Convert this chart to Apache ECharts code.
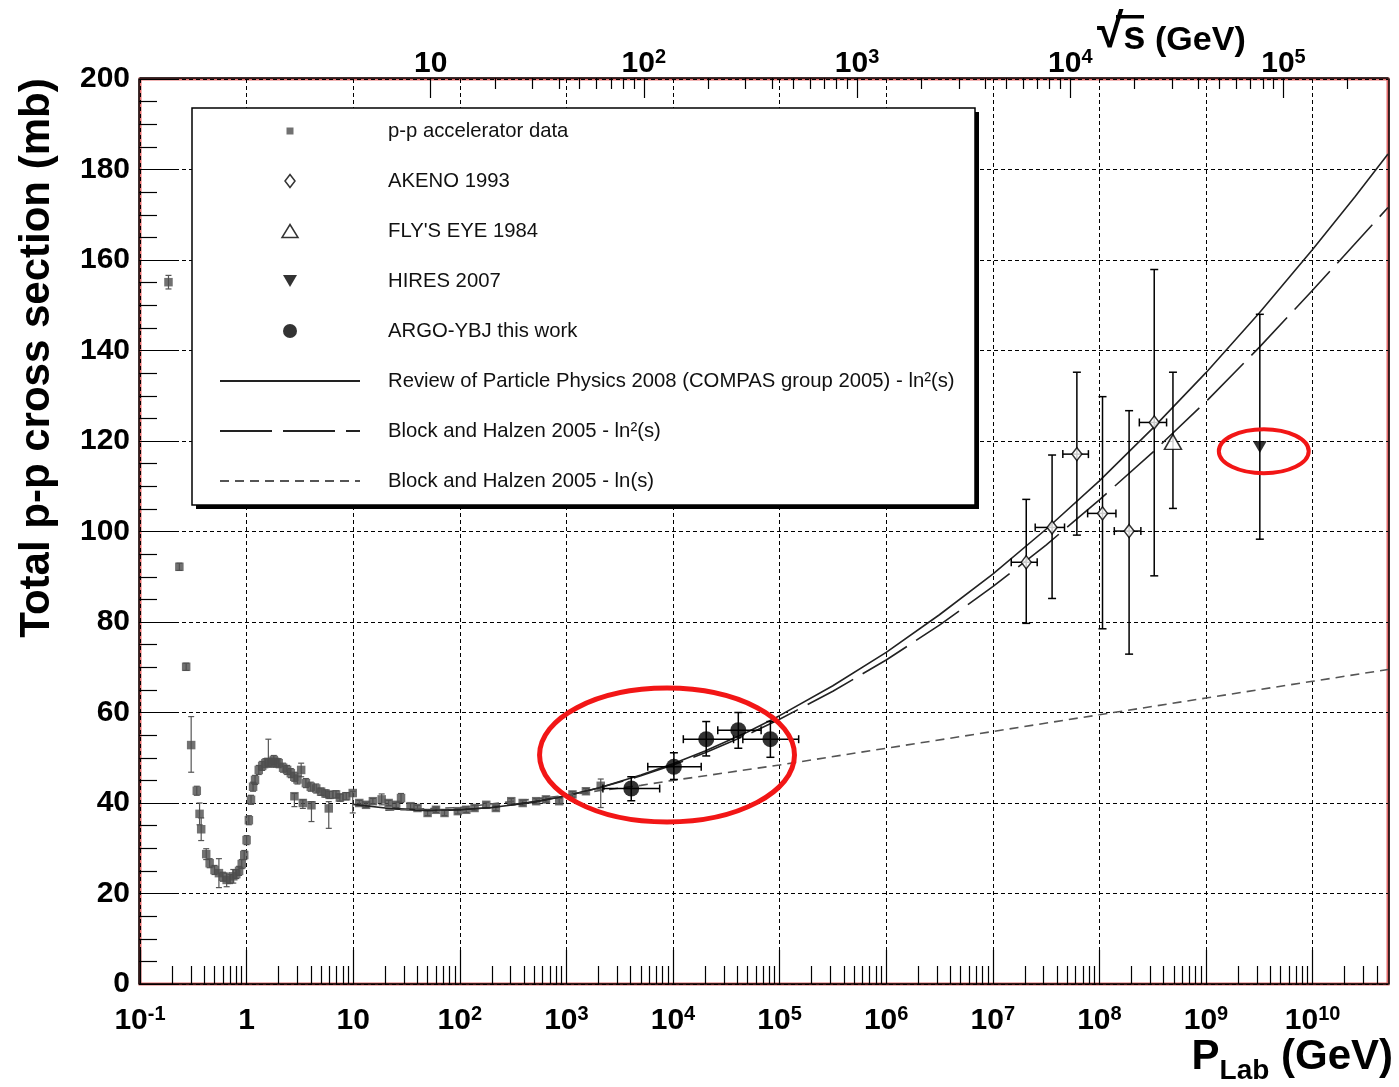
<!DOCTYPE html>
<html>
<head>
<meta charset="utf-8">
<title>Total p-p cross section</title>
<script src="https://cdn.jsdelivr.net/npm/echarts@6/dist/echarts.min.js"></script>
<style>
  html, body { margin: 0; padding: 0; background: #fff; }
  #chart { width: 1399px; height: 1087px; }
</style>
</head>
<body>
<div id="chart"></div>
<script>
// ---------------- data ----------------
// p-p accelerator measurements: lab momentum (GeV), cross section (mb), lower / upper error (mb)
const ppP = [0.185, 0.234, 0.271, 0.302, 0.341, 0.362, 0.375, 0.418, 0.45, 0.50, 0.55, 0.60, 0.65, 0.70, 0.75,
  0.80, 0.85, 0.90, 0.95, 1.00, 1.05, 1.10, 1.15, 1.20, 1.30, 1.40, 1.50, 1.60, 1.70, 1.80, 1.90, 2.0, 2.2, 2.4,
  2.6, 2.81, 2.8, 3.0, 3.25, 3.37, 3.6, 4.0, 4.06, 4.5, 5.0, 5.5, 5.9, 6.0, 6.9, 7.5, 8.6, 9.9, 11.4, 13.2, 15.3,
  18.5, 21.5, 25.3, 28.1, 34.5, 40.1, 49.9, 59.8, 71.9, 95.8, 115, 137.5, 177, 218, 304, 389, 521, 643, 856,
  1140, 1525, 2100];
const ppSigma = [155.1, 92.2, 70.1, 52.8, 42.7, 37.6, 34.2, 28.7, 26.7, 25.2, 24.5, 23.7, 23.0, 23.2, 23.8,
  24.3, 25.0, 26.5, 28.5, 31.8, 36.2, 40.7, 43.6, 45.1, 47.3, 48.2, 48.8, 49.1, 48.9, 49.5, 48.9, 48.8, 47.8, 47.3,
  46.6, 41.5, 45.8, 45.2, 47.3, 40.0, 44.4, 43.6, 39.5, 43.2, 42.5, 42.1, 38.8, 41.8, 41.9, 41.2, 41.5, 42.2, 40.0,
  39.6, 40.4, 40.8, 40.0, 39.6, 41.1, 39.3, 38.9, 37.8, 38.5, 37.8, 38.2, 38.5, 38.9, 39.6, 38.9, 40.4, 40.0, 40.4,
  40.8, 40.4, 41.9, 42.6, 43.8];
const ppErrLo = [1.5, 0.8, 0.8, 6.0, 1.0, 2.4, 2.5, 1.2, 1.0, 1.0, 3.2, 1.0, 1.5, 1.0, 1.5,
  1.0, 1.0, 1.0, 1.0, 1.0, 1.0, 1.0, 1.0, 1.0, 1.0, 1.0, 1.0, 1.0, 1.0, 1.0, 1.0, 1.0, 1.0, 1.0,
  1.0, 2.3, 1.0, 1.0, 1.5, 1.2, 1.0, 1.0, 3.6, 1.0, 0.8, 0.8, 4.4, 0.8, 0.8, 0.8, 0.8, 4.4, 0.6,
  0.6, 0.6, 1.2, 0.6, 0.6, 1.0, 0.6, 0.6, 0.6, 0.6, 0.6, 0.6, 0.6, 0.6, 0.6, 0.6, 0.6, 0.6, 0.6,
  0.6, 0.6, 0.6, 0.6, 4.8];
const ppErrHi = [1.5, 0.8, 0.8, 6.3, 1.0, 2.4, 2.5, 1.2, 1.0, 1.0, 3.2, 1.0, 1.5, 1.0, 1.5,
  1.0, 1.0, 1.0, 1.0, 1.0, 1.0, 1.0, 1.0, 1.0, 1.0, 1.0, 1.0, 5.0, 1.0, 1.0, 1.0, 1.0, 1.0, 1.0,
  1.0, 0.6, 1.0, 1.0, 1.5, 0.7, 1.0, 1.0, 0.8, 1.0, 0.8, 0.8, 1.5, 0.8, 0.8, 0.8, 0.8, 0.4, 0.6,
  0.6, 0.6, 1.2, 0.6, 0.6, 1.0, 0.6, 0.6, 0.6, 0.6, 0.6, 0.6, 0.6, 0.6, 0.6, 0.6, 0.6, 0.6, 0.6,
  0.6, 0.6, 0.6, 0.6, 1.5];

// AKENO 1993
const akenoP     = [2.06e7, 3.6e7, 6.15e7, 1.07e8, 1.9e8, 3.27e8];
const akenoSigma = [93.2, 100.9, 117.1, 104.0, 100.1, 124.1];
const akenoLo    = [79.7, 85.2, 99.2, 78.5, 72.9, 90.2];
const akenoHi    = [107.1, 116.9, 135.2, 129.8, 126.7, 157.9];
const akenoPLo   = [1.49e7, 2.5e7, 4.54e7, 7.76e7, 1.38e8, 2.37e8];
const akenoPHi   = [2.61e7, 4.71e7, 7.89e7, 1.43e8, 2.45e8, 4.27e8];

// Fly's Eye 1984
const flyP = [4.9e8], flySigma = [119.8], flyLo = [105.1], flyHi = [135.2];

// HiRes 2007
const hiresP = [3.2e9], hiresSigma = [118.7], hiresLo = [98.3], hiresHi = [148.0];

// ARGO-YBJ
const argoP     = [4.06e3, 1.02e4, 2.05e4, 4.1e4, 8.2e4];
const argoSigma = [43.2, 48.0, 54.1, 56.1, 54.1];
const argoLo    = [40.5, 45.2, 50.4, 52.1, 50.1];
const argoHi    = [45.8, 51.1, 58.0, 60.0, 58.0];
const argoPLo   = [2.2e3, 5.8e3, 1.25e4, 2.63e4, 4.52e4];
const argoPHi   = [7.5e3, 1.84e4, 3.7e4, 6.71e4, 1.51e5];

// fit curves
const compasP = [10, 20, 50, 100, 200, 500, 1e3, 2e3, 5e3, 1e4, 2e4, 5e4, 1e5, 3.16e5, 1e6, 3.16e6, 1e7,
  3.16e7, 1e8, 3.16e8, 1e9, 3.16e9, 1e10, 2.5e10, 5.1e10];
const compasSigma = [39.7, 38.9, 38.4, 38.5, 39.0, 40.2, 41.6, 43.3, 46.2, 48.7, 51.5, 55.7, 59.3, 65.9, 73.3,
  81.6, 90.6, 100.5, 111.2, 122.8, 135.1, 148.3, 162.3, 174.0, 183.4];
const bhLn2P = [20, 50, 100, 200, 500, 1e3, 2e3, 5e3, 1e4, 2e4, 5e4, 1e5, 3.16e5, 1e6, 3.16e6, 1e7, 3.16e7,
  1e8, 3.16e8, 1e9, 3.16e9, 1e10, 2.5e10, 5.1e10];
const bhLn2Sigma = [38.8, 38.3, 38.5, 39.0, 40.3, 41.6, 43.3, 46.0, 48.4, 51.1, 55.1, 58.5, 64.7, 71.6, 79.3,
  87.8, 97.0, 107.0, 117.5, 128.7, 140.7, 153.3, 163.6, 171.6];
const bhLnP = [20, 100, 1e3, 2e3, 5e3, 1e4, 1e5, 1e6, 1e7, 1e8, 1e9, 1e10, 5.1e10];
const bhLnSigma = [38.4, 39.0, 41.7, 42.7, 43.9, 45.0, 48.4, 52.1, 55.8, 59.5, 63.2, 66.9, 69.5];

// highlighted regions: [pMin, pMax, sigmaMin, sigmaMax]
const highlightBoxes = [[560, 1.38e5, 35.8, 65.4], [1.32e9, 9.2e9, 112.9, 122.6]];

// axis ticks
const pDecades = [0.1, 1, 10, 100, 1e3, 1e4, 1e5, 1e6, 1e7, 1e8, 1e9, 1e10];
const sqrtSDecades = [10, 100, 1e3, 1e4, 1e5];
const minorSteps = [2, 3, 4, 5, 6, 7, 8, 9];

const legendNames = [
  'p-p accelerator data',
  'AKENO 1993',
  "FLY'S EYE 1984",
  'HIRES 2007',
  'ARGO-YBJ this work',
  'Review of Particle Physics 2008 (COMPAS group 2005) - ln\u00b2(s)',
  'Block and Halzen 2005 - ln\u00b2(s)',
  'Block and Halzen 2005 - ln(s)'
];

// ---------------- chart ----------------
const FONT = '"Liberation Sans", Arial, Helvetica, sans-serif';
const M_P = 0.938;                       // proton mass (GeV)
const P_MIN = 0.1, P_MAX = 5.1e10;
const SQS_MIN = Math.sqrt(2 * M_P * P_MIN);
const SQS_MAX = Math.sqrt(2 * M_P * P_MAX);

const pMinor = [];
pDecades.forEach(d => minorSteps.forEach(k => { if (k * d < 4.5e10) pMinor.push(k * d); }));
const sqrtSMinor = [];
sqrtSDecades.forEach(d => minorSteps.forEach(k => { if (k * d < 2.5e5) sqrtSMinor.push(k * d); }));

function powerLabel(v) {
  const e = Math.round(Math.log10(v));
  if (e === 0) return '1';
  if (e === 1) return '10';
  return '10{sup|' + e + '}';
}

const tickLabelStyle = {
  color: '#000', fontSize: 30, fontWeight: 'bold', fontFamily: FONT, lineHeight: 34,
  rich: { sup: { color: '#000', fontSize: 20, fontWeight: 'bold', fontFamily: FONT, lineHeight: 8, verticalAlign: 'top' } }
};

function errorBarRenderer(color, width, cap) {
  return function (params, api) {
    const x = api.value(0), y = api.value(1);
    const yLo = api.value(2), yHi = api.value(3), xLo = api.value(4), xHi = api.value(5);
    const seg = (x1, y1, x2, y2) => ({ type: 'line', shape: { x1, y1, x2, y2 }, style: { stroke: color, lineWidth: width } });
    const kids = [];
    if (yHi > yLo) {
      const a = api.coord([x, yLo]), b = api.coord([x, yHi]);
      kids.push(seg(a[0], a[1], b[0], b[1]));
      kids.push(seg(a[0] - cap, a[1], a[0] + cap, a[1]));
      kids.push(seg(b[0] - cap, b[1], b[0] + cap, b[1]));
    }
    if (xHi > xLo) {
      const a = api.coord([xLo, y]), b = api.coord([xHi, y]);
      kids.push(seg(a[0], a[1], b[0], b[1]));
      kids.push(seg(a[0], a[1] - cap, a[0], a[1] + cap));
      kids.push(seg(b[0], b[1] - cap, b[0], b[1] + cap));
    }
    return { type: 'group', children: kids };
  };
}

const zip = (xs, ys) => xs.map((x, i) => [x, ys[i]]);
const ppErr = ppP.map((p, i) => [p, ppSigma[i], ppSigma[i] - ppErrLo[i], ppSigma[i] + ppErrHi[i], p, p]);
const akenoErr = akenoP.map((p, i) => [p, akenoSigma[i], akenoLo[i], akenoHi[i], akenoPLo[i], akenoPHi[i]]);
const flyErr = flyP.map((p, i) => [p, flySigma[i], flyLo[i], flyHi[i], p, p]);
const hiresErr = hiresP.map((p, i) => [p, hiresSigma[i], hiresLo[i], hiresHi[i], p, p]);
const argoErr = argoP.map((p, i) => [p, argoSigma[i], argoLo[i], argoHi[i], argoPLo[i], argoPHi[i]]);

const axisLineStyle = { color: '#000', width: 1.5 };
const tickLine = { color: '#000', width: 1.2 };
const noSymbolStyle = { color: 'rgba(0,0,0,0)', borderWidth: 0 };
const openMarker = { color: '#fff', borderColor: '#000', borderWidth: 1.5 };

// legend icons share a 140 x 14 frame so that nothing gets stretched
const ICON_SQUARE   = 'path://M0,0M140,14M66.5,3.5h7v7h-7z';
const ICON_DIAMOND  = 'path://M0,0M140,14M70,0.5L75,7L70,13.5L65,7Z';
const ICON_TRIANGLE = 'path://M0,0M140,14M70,0.5L78,13.5L62,13.5Z';
const ICON_DOWN     = 'path://M0,0M140,14M63,1L77,1L70,13Z';
const ICON_CIRCLE   = 'path://M0,0M140,14M62,7A8,8 0 1,0 78,7A8,8 0 1,0 62,7Z';

const option = {
  animation: false,
  backgroundColor: '#fff',
  grid: { left: 140, right: 11, top: 79, bottom: 103, show: true, borderColor: '#e46a6a', borderWidth: 3, backgroundColor: 'transparent' },
  xAxis: [
    { // lab momentum, decades
      type: 'log', logBase: 10, min: P_MIN, max: P_MAX, position: 'bottom', offset: 1, z: 1,
      axisLine: { show: true, lineStyle: axisLineStyle },
      axisTick: { show: true, inside: true, length: 34, lineStyle: tickLine, customValues: pDecades },
      axisLabel: Object.assign({ customValues: pDecades, formatter: powerLabel, margin: 19 }, tickLabelStyle),
      splitLine: { show: true, lineStyle: { color: '#000', width: 1, type: [4, 3] } }
    },
    { // lab momentum, minor ticks
      type: 'log', logBase: 10, min: P_MIN, max: P_MAX, position: 'bottom', offset: 1, z: 1,
      axisLine: { show: false }, axisLabel: { show: false }, splitLine: { show: false },
      axisTick: { show: true, inside: true, length: 18, lineStyle: tickLine, customValues: pMinor }
    },
    { // centre-of-mass energy, decades
      type: 'log', logBase: 10, min: SQS_MIN, max: SQS_MAX, position: 'top', offset: 1, z: 1,
      axisLine: { show: true, lineStyle: axisLineStyle },
      axisTick: { show: true, inside: true, length: 20, lineStyle: tickLine, customValues: sqrtSDecades },
      axisLabel: Object.assign({ customValues: sqrtSDecades, formatter: powerLabel, margin: -3 }, tickLabelStyle),
      splitLine: { show: false }
    },
    { // centre-of-mass energy, minor ticks
      type: 'log', logBase: 10, min: SQS_MIN, max: SQS_MAX, position: 'top', offset: 1, z: 1,
      axisLine: { show: false }, axisLabel: { show: false }, splitLine: { show: false },
      axisTick: { show: true, inside: true, length: 11, lineStyle: tickLine, customValues: sqrtSMinor }
    }
  ],
  yAxis: [
    {
      type: 'value', min: 0, max: 200, interval: 20, position: 'left', offset: 1, z: 1,
      axisLine: { show: true, lineStyle: axisLineStyle },
      axisTick: { show: true, inside: true, length: 36, lineStyle: tickLine },
      minorTick: { show: true, splitNumber: 4, length: 18, lineStyle: tickLine },
      axisLabel: { color: '#000', fontSize: 30, fontWeight: 'bold', fontFamily: FONT, margin: 9, padding: [8, 0, 0, 0] },
      splitLine: { show: true, lineStyle: { color: '#000', width: 1, type: [4, 3] } }
    },
    {
      type: 'value', min: 0, max: 200, position: 'right', offset: 1, z: 1,
      axisLine: { show: true, lineStyle: axisLineStyle },
      axisTick: { show: false }, axisLabel: { show: false }, splitLine: { show: false }
    }
  ],
  legend: {
    orient: 'vertical', left: 192, top: 108, z: 6,
    padding: [13, 23, 12, 27], itemGap: 30, itemWidth: 140, itemHeight: 14,
    symbolKeepAspect: true, selectedMode: false,
    textStyle: { fontSize: 20.3, fontFamily: FONT, color: '#111', lineHeight: 20, padding: [0, 0, 0, 23] },
    data: [
      { name: legendNames[0], icon: ICON_SQUARE },
      { name: legendNames[1], icon: ICON_DIAMOND, itemStyle: openMarker },
      { name: legendNames[2], icon: ICON_TRIANGLE, itemStyle: openMarker },
      { name: legendNames[3], icon: ICON_DOWN },
      { name: legendNames[4], icon: ICON_CIRCLE },
      legendNames[5], legendNames[6], legendNames[7]
    ]
  },
  graphic: [
    // legend frame with its drop shadow
    { type: 'rect', z: 5, shape: { x: 196, y: 112, width: 783, height: 397 }, style: { fill: '#000' } },
    { type: 'rect', z: 5, shape: { x: 192, y: 108, width: 783, height: 397 }, style: { fill: '#fff', stroke: '#000', lineWidth: 1.5 } },
    {
      type: 'text', x: 37, y: 358, rotation: Math.PI / 2,
      style: { text: 'Total p-p cross section (mb)', fill: '#000', fontSize: 42, fontWeight: 'bold', fontFamily: FONT, align: 'center', verticalAlign: 'middle' }
    },
    {
      type: 'text', x: 1393, y: 1036,
      style: {
        text: '{p|P}{s|Lab}{p| (GeV)}', align: 'right', verticalAlign: 'top',
        rich: {
          p: { fill: '#000', fontSize: 42, fontWeight: 'bold', fontFamily: FONT, lineHeight: 49, verticalAlign: 'top' },
          s: { fill: '#000', fontSize: 28, fontWeight: 'bold', fontFamily: FONT, lineHeight: 49, verticalAlign: 'bottom' }
        }
      }
    },
    {
      type: 'text', x: 1097, y: 0,
      style: {
        text: '{r|\u221a}{s|s}{g| (GeV)}', align: 'left', verticalAlign: 'top',
        rich: {
          r: { fill: '#000', fontSize: 48, fontWeight: 'bold', fontFamily: FONT, lineHeight: 58, verticalAlign: 'bottom' },
          s: { fill: '#000', fontSize: 40, fontWeight: 'bold', fontFamily: FONT, lineHeight: 58, verticalAlign: 'bottom' },
          g: { fill: '#000', fontSize: 34, fontWeight: 'bold', fontFamily: FONT, lineHeight: 58, verticalAlign: 'bottom' }
        }
      }
    },
    // vinculum of the square-root sign
    { type: 'rect', shape: { x: 1116, y: 15, width: 28, height: 3.5 }, style: { fill: '#000' } }
  ],
  series: [
    { name: 'pp errors', type: 'custom', silent: true, z: 2, renderItem: errorBarRenderer('#555', 1.2, 3), encode: { x: 0, y: 1 }, data: ppErr },
    { name: legendNames[0], type: 'scatter', z: 3, symbol: 'rect', symbolSize: 8.5, itemStyle: { color: '#4d4d4d' }, data: zip(ppP, ppSigma) },
    { name: legendNames[5], type: 'line', z: 4, symbol: 'none', itemStyle: noSymbolStyle,
      lineStyle: { color: '#222', width: 1.6 }, data: zip(compasP, compasSigma) },
    { name: legendNames[6], type: 'line', z: 4, symbol: 'none', itemStyle: noSymbolStyle,
      lineStyle: { color: '#222', width: 1.6, type: [52, 11] }, data: zip(bhLn2P, bhLn2Sigma) },
    { name: legendNames[7], type: 'line', z: 4, symbol: 'none', itemStyle: noSymbolStyle,
      lineStyle: { color: '#555', width: 1.6, type: [9, 6] }, data: zip(bhLnP, bhLnSigma) },
    { name: 'cosmic errors', type: 'custom', silent: true, z: 5, renderItem: errorBarRenderer('#000', 1.5, 4), encode: { x: 0, y: 1 },
      data: akenoErr.concat(flyErr, hiresErr, argoErr) },
    { name: legendNames[1], type: 'scatter', z: 6, symbol: 'diamond', symbolSize: [10, 13], itemStyle: openMarker, data: zip(akenoP, akenoSigma) },
    { name: legendNames[2], type: 'scatter', z: 6, symbol: 'triangle', symbolSize: [17, 15], itemStyle: openMarker, data: zip(flyP, flySigma) },
    { name: legendNames[3], type: 'scatter', z: 6, symbol: 'path://M0,0L14,0L7,12Z', symbolSize: [14, 12], itemStyle: { color: '#000' }, data: zip(hiresP, hiresSigma) },
    { name: legendNames[4], type: 'scatter', z: 6, symbol: 'circle', symbolSize: 16, itemStyle: { color: '#000' }, data: zip(argoP, argoSigma) },
    { name: 'highlight', type: 'custom', silent: true, z: 10, encode: { x: [0, 1], y: [2, 3] }, data: highlightBoxes,
      renderItem: function (params, api) {
        const a = api.coord([api.value(0), api.value(2)]);
        const b = api.coord([api.value(1), api.value(3)]);
        return {
          type: 'ellipse',
          shape: { cx: (a[0] + b[0]) / 2, cy: (a[1] + b[1]) / 2, rx: Math.abs(b[0] - a[0]) / 2, ry: Math.abs(b[1] - a[1]) / 2 },
          style: { fill: 'none', stroke: '#f21616', lineWidth: params.dataIndex === 0 ? 5 : 4 }
        };
      }
    }
  ]
};

const chart = echarts.init(document.getElementById('chart'), null, { renderer: 'canvas' });
chart.setOption(option);
</script>
</body>
</html>
